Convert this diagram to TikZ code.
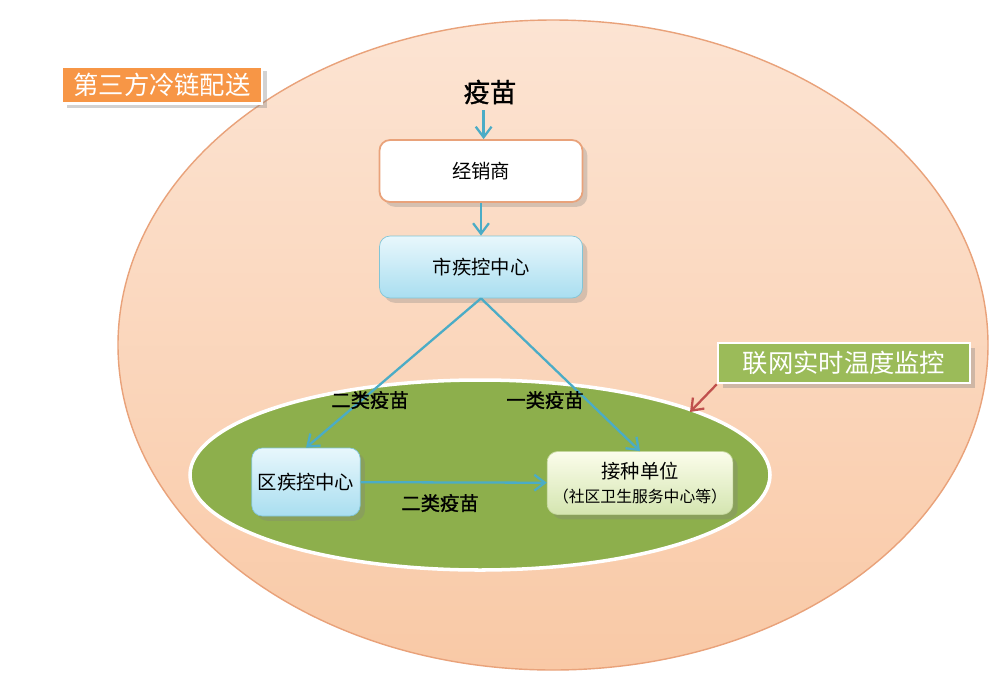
\documentclass[tikz,border=0pt]{standalone}
\usepackage{fontspec}
\setmainfont{Noto Sans CJK SC}
\newfontfamily\semibold[FakeBold=1.2]{Noto Sans CJK SC}
\usetikzlibrary{arrows.meta, positioning, shadows}

\definecolor{peachtop}{HTML}{FCE4D3}
\definecolor{peachbot}{HTML}{F9C9A6}
\definecolor{peachedge}{HTML}{E9A27A}
\definecolor{leaf}{HTML}{8DAF4C}
\definecolor{orangebox}{HTML}{F79646}
\definecolor{greenbox}{HTML}{9BBB59}
\definecolor{flow}{HTML}{4BACC6}
\definecolor{pointer}{HTML}{C0504D}
\definecolor{icetop}{HTML}{E8F7FC}
\definecolor{icebot}{HTML}{A9DEF0}
\definecolor{limetop}{HTML}{FBFDEB}
\definecolor{limebot}{HTML}{D4E5B0}

\tikzset{
  stage/.style={draw, rounded corners=6pt, minimum width=4.06cm, minimum height=1.24cm,
                font=\fontsize{11}{13}\selectfont, drop shadow={opacity=0.3}},
  tag/.style={draw=white, line width=1.5pt, text=white, inner sep=0pt,
              font=\fontsize{14.4}{16}\selectfont, drop shadow={opacity=0.35}},
  flowarrow/.style={-{Straight Barb[length=6pt,width=9pt]}, flow, line width=1.3pt},
  vlabel/.style={font=\fontsize{11}{13}\selectfont\semibold}
}

\begin{document}
\begin{tikzpicture}
    \useasboundingbox (0,0) rectangle (20,-13.76);
    \fill[white] (0,0) rectangle (20,-13.76);

    % Zona exterior y zona verde
    \shade[top color=peachtop, bottom color=peachbot] (11.06,-6.9) ellipse (8.7 and 6.5);
    \draw[peachedge, line width=0.8pt] (11.06,-6.9) ellipse (8.7 and 6.5);
    \fill[leaf] (9.6,-9.5) ellipse (5.8 and 1.9);
    \draw[white, line width=2pt] (9.6,-9.5) ellipse (5.8 and 1.9);

    % Etiquetas
    \node[tag, fill=orangebox, minimum width=4.0cm, minimum height=0.74cm] (coldchain) at (3.24,-1.7) {第三方冷链配送};
    \node[tag, fill=greenbox, minimum width=5.04cm, minimum height=0.8cm] (monitor) at (16.88,-7.26) {联网实时温度监控};

    % Nodos
    \node[font=\fontsize{15}{18}\selectfont\semibold] (vaccine) at (9.8,-1.84) {疫苗};
    \node[stage, draw=peachedge, line width=1pt, fill=white] (dealer) at (9.62,-3.42) {经销商};
    \node[stage, draw=flow!70, top color=icetop, bottom color=icebot] (city) at (9.62,-5.34) {市疾控中心};
    \node[stage, draw=flow!70, top color=icetop, bottom color=icebot,
          minimum width=2.06cm, minimum height=1.36cm] (district) at (6.12,-9.64) {区疾控中心};
    \node[stage, draw=greenbox!60, top color=limetop, bottom color=limebot,
          minimum width=3.58cm, minimum height=1.26cm, align=center,
          font=\fontsize{11}{14}\selectfont] (site) at (12.8,-9.66) {接种单位\\{\fontsize{9}{11}\selectfont （社区卫生服务中心等）}};

    % Flechas
    \draw[flowarrow] ([xshift=1.5pt]vaccine.south -| dealer.north) -- ([xshift=1.5pt]dealer.north);
    \draw[flowarrow] (dealer) -- (city);
    \draw[flowarrow] (city.south) -- (district.north);
    \draw[flowarrow] (city.south) -- (site.north);
    \draw[flowarrow] (district) -- (site);

    \node[vlabel] (second1) at (7.4,-8.0) {二类疫苗};
    \node[vlabel] (first) at (10.9,-8.0) {一类疫苗};
    \node[vlabel] (second2) at (8.8,-10.06) {二类疫苗};

    \coordinate (rim) at (13.8,-8.24);
    \draw[-{Straight Barb[length=6pt,width=9pt]}, pointer, line width=1.3pt] (monitor.south west) -- (rim);
\end{tikzpicture}
\end{document}
